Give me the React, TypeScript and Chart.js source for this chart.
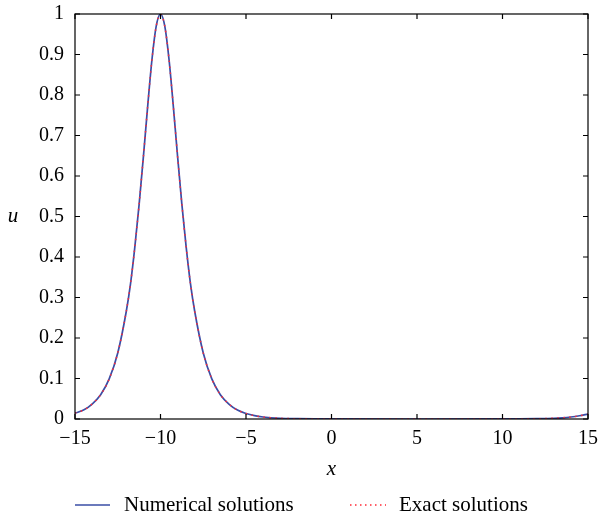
import React, { useEffect, useRef } from "react";
import { Chart, registerables } from "chart.js";

Chart.register(...registerables);

const xValues = [
  -15, -14.5, -14, -13.5, -13, -12.5, -12, -11.75, -11.5, -11.25, -11, -10.75, -10.5, -10.25, -10,
  -9.75, -9.5, -9.25, -9, -8.75, -8.5, -8.25, -8, -7.5, -7, -6.5, -6, -5.5, -5, -4.5, -4, -3, -2, -1,
  0, 5, 10, 11, 12, 13, 13.5, 14, 14.5, 15,
];
const numericalValues = [
  0.0145, 0.022, 0.037, 0.06, 0.099, 0.163, 0.266, 0.335, 0.425, 0.53, 0.648, 0.772, 0.887, 0.97, 1.0,
  0.97, 0.887, 0.772, 0.648, 0.53, 0.425, 0.335, 0.266, 0.163, 0.099, 0.06, 0.037, 0.022, 0.0135, 0.0082,
  0.005, 0.0018, 0.0007, 0.0002, 0.0001, 0.0, 0.0001, 0.0002, 0.0007, 0.0018, 0.003, 0.005, 0.008, 0.012,
];
const exactValues = [
  0.0145, 0.022, 0.037, 0.06, 0.099, 0.163, 0.266, 0.335, 0.425, 0.53, 0.648, 0.772, 0.887, 0.97, 1.0,
  0.97, 0.887, 0.772, 0.648, 0.53, 0.425, 0.335, 0.266, 0.163, 0.099, 0.06, 0.037, 0.022, 0.0135, 0.0082,
  0.005, 0.0018, 0.0007, 0.0002, 0.0001, 0.0, 0.0001, 0.0002, 0.0007, 0.0018, 0.003, 0.005, 0.008, 0.012,
];
const xTicks = [-15, -10, -5, 0, 5, 10, 15];
const yTicks = [0, 0.1, 0.2, 0.3, 0.4, 0.5, 0.6, 0.7, 0.8, 0.9, 1];
const seriesLabels = ["Numerical solutions", "Exact solutions"];

const BLUE = "#3a4ea6";
const RED = "#ff2a36";
const SERIF = "'Liberation Serif', 'DejaVu Serif', serif";

const framePlugin = {
  id: "frame",
  afterDraw(chart: any) {
    const { ctx, chartArea } = chart;
    const { left, right, top, bottom } = chartArea;
    const xs = chart.scales.x;
    const ys = chart.scales.y;
    ctx.save();
    ctx.strokeStyle = "#000";
    ctx.lineWidth = 1.2;
    ctx.strokeRect(left, top, right - left, bottom - top);
    const tl = 5;
    ctx.beginPath();
    xTicks.forEach((v) => {
      const px = xs.getPixelForValue(v);
      ctx.moveTo(px, bottom);
      ctx.lineTo(px, bottom - tl);
      ctx.moveTo(px, top);
      ctx.lineTo(px, top + tl);
    });
    yTicks.forEach((v) => {
      const py = ys.getPixelForValue(v);
      ctx.moveTo(left, py);
      ctx.lineTo(left + tl, py);
      ctx.moveTo(right, py);
      ctx.lineTo(right - tl, py);
    });
    ctx.stroke();

    // axis titles
    ctx.fillStyle = "#000";
    ctx.font = `italic 21px ${SERIF}`;
    ctx.textAlign = "center";
    ctx.textBaseline = "middle";
    ctx.fillText("x", (left + right) / 2, 469);
    ctx.fillText("u", 13, (top + bottom) / 2);

    // legend
    const ly = 505;
    ctx.strokeStyle = BLUE;
    ctx.lineWidth = 1.5;
    ctx.setLineDash([]);
    ctx.beginPath();
    ctx.moveTo(75, ly);
    ctx.lineTo(110, ly);
    ctx.stroke();
    ctx.strokeStyle = RED;
    ctx.lineWidth = 1.4;
    ctx.setLineDash([1.5, 3.5]);
    ctx.beginPath();
    ctx.moveTo(350, ly);
    ctx.lineTo(386, ly);
    ctx.stroke();
    ctx.setLineDash([]);
    ctx.font = `21px ${SERIF}`;
    ctx.textAlign = "left";
    ctx.fillStyle = "#000";
    ctx.fillText(seriesLabels[0], 124, ly);
    ctx.fillText(seriesLabels[1], 399, ly);
    ctx.restore();
  },
};

export default function App() {
  const ref = useRef<HTMLCanvasElement | null>(null);
  useEffect(() => {
    if (!ref.current) return;
    const chart = new Chart(ref.current, {
      type: "line",
      data: {
        datasets: [
          {
            label: seriesLabels[0],
            data: xValues.map((x, i) => ({ x, y: numericalValues[i] })),
            borderColor: BLUE,
            borderWidth: 1.7,
            pointRadius: 0,
            cubicInterpolationMode: "monotone",
            fill: false,
            order: 1,
          },
          {
            label: seriesLabels[1],
            data: xValues.map((x, i) => ({ x, y: exactValues[i] })),
            borderColor: RED,
            borderWidth: 1.5,
            borderDash: [1.5, 4.5],
            pointRadius: 0,
            cubicInterpolationMode: "monotone",
            fill: false,
            order: 0,
          },
        ],
      },
      options: {
        responsive: false,
        animation: false,
        layout: { padding: { left: 0, top: 14, right: 0, bottom: 0 } },
        plugins: { legend: { display: false }, tooltip: { enabled: false } },
        scales: {
          x: {
            type: "linear",
            min: -15,
            max: 15,
            grid: { display: false, drawTicks: false },
            border: { display: false },
            afterFit: (s: any) => {
              s.height = 104;
              s.paddingRight = 11;
              s.paddingLeft = 0;
            },
            afterBuildTicks: (s: any) => {
              s.ticks = xTicks.map((v) => ({ value: v }));
            },
            ticks: {
              padding: 8,
              maxRotation: 0,
              autoSkip: false,
              color: "#000",
              font: { family: SERIF, size: 20 },
              callback: (v: any) => (v < 0 ? "\u2212" + Math.abs(v) : String(v)),
            },
          },
          y: {
            type: "linear",
            min: 0,
            max: 1,
            grid: { display: false, drawTicks: false },
            border: { display: false },
            afterFit: (s: any) => {
              s.width = 75;
              s.paddingTop = 0;
              s.paddingBottom = 0;
            },
            afterBuildTicks: (s: any) => {
              s.ticks = yTicks.map((v) => ({ value: v }));
            },
            ticks: {
              padding: 11,
              autoSkip: false,
              color: "#000",
              font: { family: SERIF, size: 20 },
              callback: (v: any) => String(Number(Number(v).toFixed(1))),
            },
          },
        },
      },
      plugins: [framePlugin],
    });
    return () => chart.destroy();
  }, []);
  return (
    <div style={{ position: "fixed", left: 0, top: 0, width: 599, height: 523, background: "#fff" }}>
      <canvas ref={ref} width={599} height={523} />
    </div>
  );
}
